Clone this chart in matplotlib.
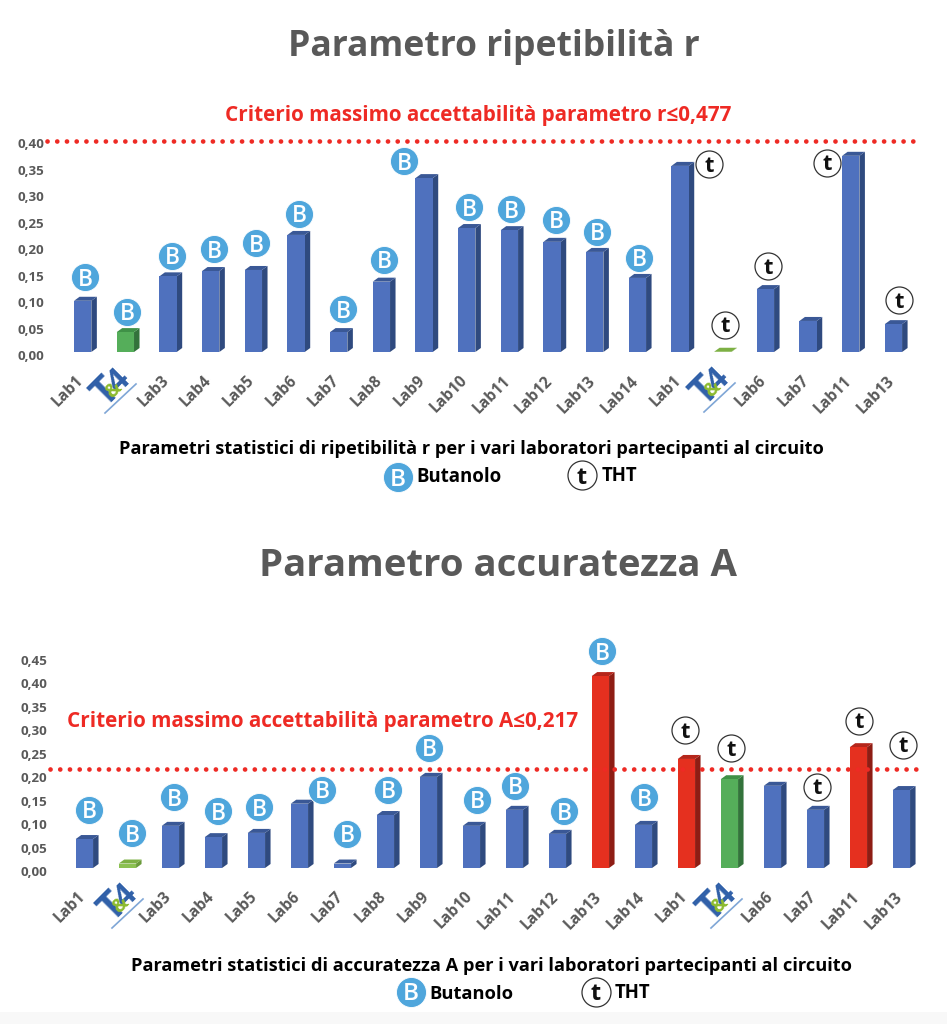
import matplotlib
matplotlib.use("Agg")
import matplotlib.pyplot as plt
from matplotlib.transforms import ScaledTranslation

plt.rcParams['font.family'] = ['Open Sans', 'DejaVu Sans']
W, H = 947, 1024
DPI = 100

labels = ["Lab1", "", "Lab3", "Lab4", "Lab5", "Lab6", "Lab7", "Lab8", "Lab9", "Lab10",
          "Lab11", "Lab12", "Lab13", "Lab14", "Lab1", "", "Lab6", "Lab7", "Lab11", "Lab13"]
r_values = [.104, .045, .150, .160, .162, .228, .045, .140, .335, .241,
            .237, .215, .196, .147, .358, .008, .126, .066, .377, .060]
a_values = [.070, .018, .098, .074, .083, .145, .018, .121, .202, .098,
            .132, .081, .416, .100, .240, .197, .183, .132, .265, .174]
r_ticks = [0, .05, .10, .15, .20, .25, .30, .35, .40]
a_ticks = [0, .05, .10, .15, .20, .25, .30, .35, .40, .45]
r_limit_drawn = 0.397
a_limit_drawn = 0.210

BLUE = ("#4F71BE", "#2F4A7F", "#3A5896")
GREEN = ("#55AE5A", "#33733B", "#3F9147")
LIME = ("#8CC152", "#6A9A3A", "#7DB044")
RED = ("#E5301F", "#8E1D14", "#B5261B")
r_colors = [BLUE, GREEN] + [BLUE] * 13 + [LIME] + [BLUE] * 4
a_colors = [BLUE, LIME] + [BLUE] * 10 + [RED, BLUE, RED, GREEN, BLUE, BLUE, RED, BLUE]

r_badges = [("B", 85, 277), ("B", 127, 312), ("B", 172, 256), ("B", 214, 249), ("B", 256, 243),
            ("B", 299, 214), ("B", 343, 309), ("B", 384, 260), ("B", 404, 161), ("B", 469, 207),
            ("B", 511, 209), ("B", 556, 220), ("B", 597, 232), ("B", 639, 258), ("t", 709, 164),
            ("t", 725, 325), ("t", 768, 266), ("t", 827, 163), ("t", 899, 300)]
a_badges = [("B", 89, 810), ("B", 132, 833), ("B", 174, 797), ("B", 218, 811), ("B", 259, 807),
            ("B", 322, 790), ("B", 347, 834), ("B", 388, 790), ("B", 429, 748), ("B", 477, 800),
            ("B", 515, 786), ("B", 564, 811), ("B", 602, 651), ("B", 644, 797), ("t", 685, 730),
            ("t", 731, 748), ("t", 817, 787), ("t", 859, 721), ("t", 903, 745)]

fig = plt.figure(figsize=(W / DPI, H / DPI), dpi=DPI, facecolor="white")


def panel(values, colors, ticks, limit, base_px, px_per_unit, x0_px, step_px, line_x):
    left, right = line_x
    top_px = base_px - ticks[-1] * px_per_unit
    ax = fig.add_axes([left / W, 1 - base_px / H, (right - left) / W, (base_px - top_px) / H])
    ax.patch.set_alpha(0)
    ax.set_xlim((left - x0_px) / step_px, (right - x0_px) / step_px)
    ax.set_ylim(0, ticks[-1])
    for s in ax.spines.values():
        s.set_visible(False)
    bw = 17.3 / step_px
    dx = 5.5 / step_px
    dy = 4.0 / px_per_unit
    for i, (v, c) in enumerate(zip(values, colors)):
        h = max(v - dy, 0.0)
        l, rr = i - bw / 2, i + bw / 2
        ax.bar(i, h, width=bw, color=c[0], linewidth=0, zorder=3)
        ax.fill([rr, rr + dx, rr + dx, rr], [0, dy, h + dy, h], color=c[1], lw=0, zorder=2, clip_on=False)
        ax.fill([l, l + dx, rr + dx, rr], [h, h + dy, h + dy, h], color=c[2], lw=0, zorder=2, clip_on=False)
    ax.axhline(limit, color="#EE2A24", lw=3.4, ls=(0, (0.01, 2.05)), dash_capstyle="round",
               zorder=5, clip_on=False)
    ax.set_yticks(ticks)
    ax.set_yticklabels([f"{t:.2f}".replace(".", ",") for t in ticks], fontsize=9.6,
                       fontweight="bold", color="#595959", va="center")
    ax.set_xticks(range(len(labels)))
    ax.set_xticklabels(labels, rotation=45, ha="right", va="center", rotation_mode="anchor",
                       fontsize=11.2, fontweight="bold", color="#595959")
    ax.tick_params(axis="y", length=0, pad=2)
    ax.tick_params(axis="x", length=0, pad=19)
    shift = ScaledTranslation(0, -5 / DPI, fig.dpi_scale_trans)
    for lab in ax.get_yticklabels():
        lab.set_transform(lab.get_transform() + shift)
    shift_x = ScaledTranslation(-1.5 / DPI, 0, fig.dpi_scale_trans)
    for lab in ax.get_xticklabels():
        lab.set_transform(lab.get_transform() + shift_x)
    return ax


panel(r_values, r_colors, r_ticks, r_limit_drawn, 352, 531, 82.7, 42.67, (47, 917))
panel(a_values, a_colors, a_ticks, a_limit_drawn, 868, 471, 84.4, 43.0, (50, 920))

ov = fig.add_axes([0, 0, 1, 1], zorder=10)
ov.set_xlim(0, W)
ov.set_ylim(H, 0)
ov.axis("off")
ov.patch.set_alpha(0)
ov.fill([0, W, W, 0], [1012, 1012, H, H], color="#F8F8F8", lw=0, zorder=0)
renderer = fig.canvas.get_renderer()


def fit(s, x0, x1, y, color, size=20):
    t = ov.text((x0 + x1) / 2, y, s, ha="center", va="center", fontweight="bold", color=color, fontsize=size)
    w = t.get_window_extent(renderer).width
    t.set_fontsize(size * (x1 - x0) / w)
    return t


def badge(kind, x, y, r=14):
    d_pt = 2 * r * 72 / DPI
    if kind == "B":
        ov.scatter([x], [y], s=d_pt ** 2, color="#4FA6DC", edgecolors="white", linewidths=0.6, zorder=6)
        ov.text(x, y - 0.5, "B", color="white", fontweight="semibold", fontsize=r * 1.17, ha="center",
                va="center_baseline", zorder=7)
    else:
        r2 = r - 0.5
        d2 = 2 * r2 * 72 / DPI
        ov.scatter([x], [y], s=d2 ** 2, color="white", edgecolors="#333333", linewidths=0.9, zorder=6)
        ov.text(x, y - 0.5, "t", color="#111111", fontweight="bold", fontsize=r * 1.12, ha="center",
                va="center_baseline", zorder=7)


def logo(cx, cy):
    ov.text(cx - 6, cy + 1, "T", color="#2F5FA8", fontweight="bold", fontsize=29, rotation=45,
            ha="center", va="center", zorder=3)
    ov.text(cx + 7, cy - 9, "4", color="#2F5FA8", fontweight="bold", fontsize=23, rotation=45,
            ha="center", va="center", zorder=3)
    ov.text(cx + 2, cy - 1, "&", color="#8DBB2E", fontweight="bold", fontsize=14, rotation=45,
            ha="center", va="center", zorder=4)
    ov.plot([cx - 7, cx + 24], [cy + 22, cy - 7], color="#7FA6D6", lw=1.2)


fit("Parametro ripetibilità r", 288, 700, 47, "#595959", 30)
fit("Parametro accuratezza A", 259, 737, 566, "#595959", 30)
fit("Criterio massimo accettabilità parametro r≤0,477", 224, 732, 116, "#EE2A24", 14)
fit("Criterio massimo accettabilità parametro A≤0,217", 65, 580, 722, "#EE2A24", 14)
fit("Parametri statistici di ripetibilità r per i vari laboratori partecipanti al circuito",
    118, 824, 449, "black", 12)
fit("Parametri statistici di accuratezza A per i vari laboratori partecipanti al circuito",
    130, 853, 966, "black", 12)
fit("Butanolo", 416, 501, 477, "black", 12)
fit("THT", 601, 637, 476, "black", 12)
fit("Butanolo", 429, 513, 994, "black", 12)
fit("THT", 614, 650, 993, "black", 12)

for k, x, y in r_badges + a_badges:
    badge(k, x, y)
for k, x, y in [("B", 398, 477), ("t", 582, 475), ("B", 411, 992), ("t", 596, 992)]:
    badge(k, x, y, 15)
for cx, cy in [(112, 391), (711, 390), (119, 906), (718, 906)]:
    logo(cx, cy)

fig.savefig("out.png", dpi=DPI, facecolor="white")
